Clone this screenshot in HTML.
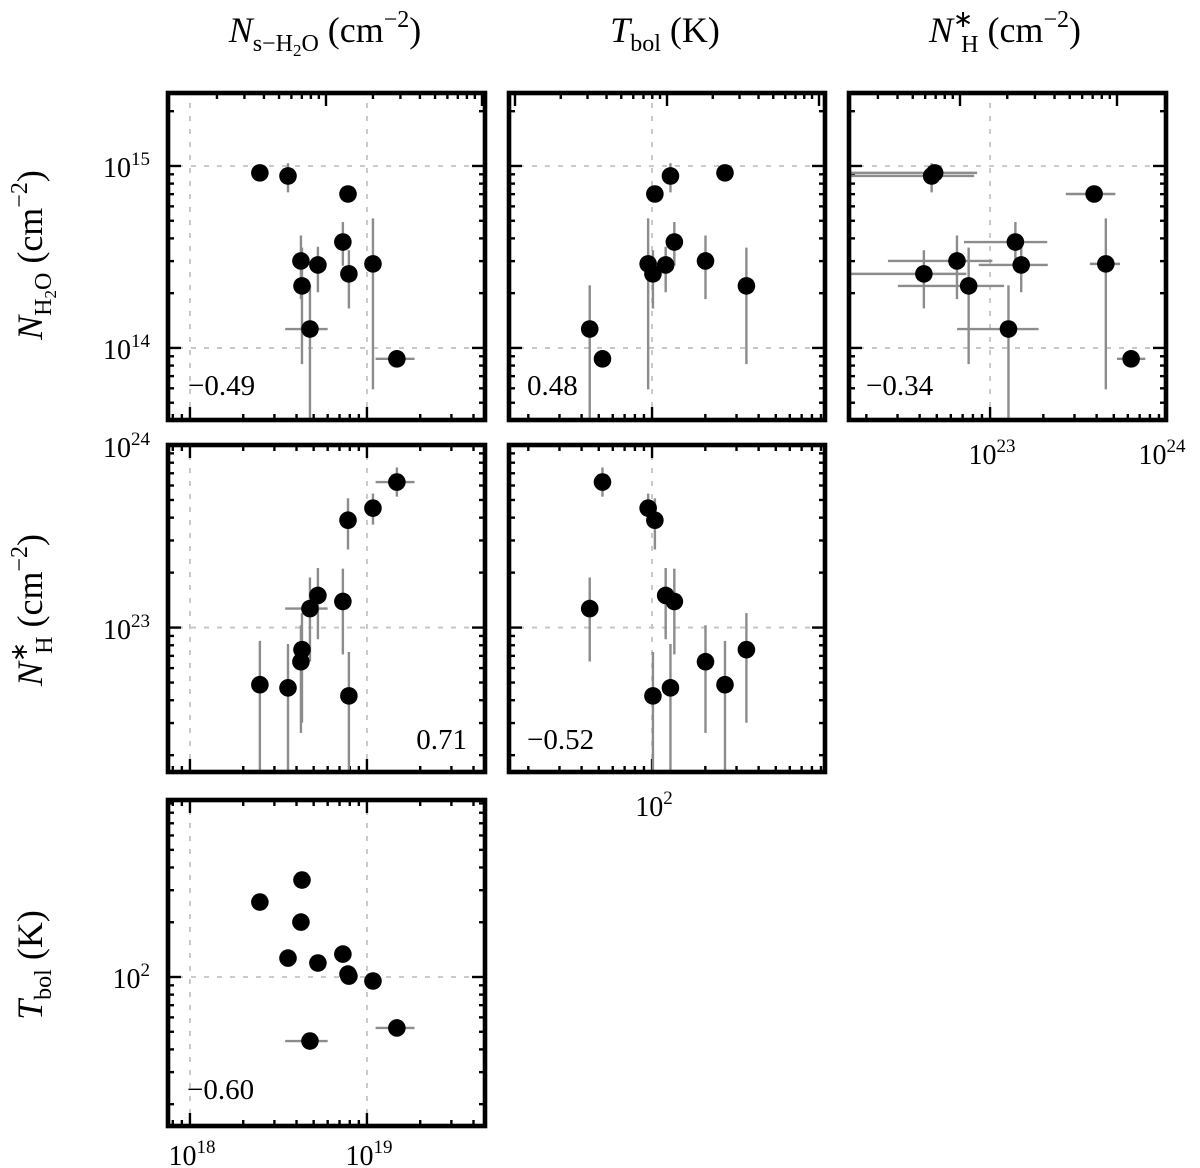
<!DOCTYPE html>
<html><head><meta charset="utf-8"><style>
html,body{margin:0;padding:0;background:#fff;}
svg{display:block;font-family:"Liberation Serif",serif;}
</style></head><body>
<svg id="fig" width="1200" height="1168" viewBox="0 0 1200 1168" xmlns="http://www.w3.org/2000/svg"></svg>
<script>
// ---- data (log10 values), one entry per source ----
const logNsH2O = [18.395,18.554,18.627,18.633,18.678,18.723,18.864,18.893,18.898,19.034,19.169];
const logNH    = [22.687,22.670,22.813,22.879,23.104,23.176,23.143,23.588,22.626,23.654,23.797];
const logTbol  = [2.412,2.104,2.302,2.533,1.648,2.077,2.126,2.016,2.005,1.978,1.720];
const logNH2O  = [14.962,14.945,14.478,14.341,14.104,14.456,14.582,14.846,14.407,14.462,13.940];
// errors in dex (lower, upper)
const errNsLo  = [0,0,0,0,0.14,0,0,0,0,0,0.12];
const errNsHi  = [0,0,0,0,0.10,0,0,0,0,0,0.10];
const errNHLo  = [1.0,1.0,0.39,0.40,0.29,0.24,0.29,0.16,1.0,0.09,0.08];
const errNHHi  = [0.24,0.24,0.20,0.20,0.17,0.15,0.18,0.12,0.24,0.08,0.08];
const errH2OLo = [0,0.09,0.21,0.43,1.0,0.15,0.13,0,0.19,0.69,0];
const errH2OHi = [0,0.07,0.14,0.21,0.24,0.10,0.11,0,0.13,0.25,0];
const errTbolLo = [0,0,0,0,0,0,0,0,0,0,0];
const errTbolHi = [0,0,0,0,0,0,0,0,0,0,0];
const corrLabels = ["\u22120.49","0.48","\u22120.34","0.71","\u22120.52","\u22120.60"];

const NS="http://www.w3.org/2000/svg";
const svg=document.getElementById('fig');
function mk(tag,attrs,parent){const e=document.createElementNS(NS,tag);for(const k in attrs)e.setAttribute(k,attrs[k]);(parent||svg).appendChild(e);return e;}

const vars={
  ns:{v:logNsH2O,lo:errNsLo,hi:errNsHi},
  nh:{v:logNH,lo:errNHLo,hi:errNHHi},
  tbol:{v:logTbol,lo:errTbolLo,hi:errTbolHi},
  h2o:{v:logNH2O,lo:errH2OLo,hi:errH2OHi}
};
const panels=[
 {x:'ns',y:'h2o',L:168,T:93,W:317,H:327,xd:[17.876,19.667],yd:[13.604,15.401],top:{dec:326,px:156},corr:0,cx:188,cy:395,anchor:'start'},
 {x:'tbol',y:'h2o',L:509,T:93,W:316,H:327,xd:[1.192,2.977],yd:[13.604,15.401],top:{dec:667,px:152},corr:1,cx:527,cy:395,anchor:'start'},
 {x:'nh',y:'h2o',L:849,T:93,W:317,H:327,xd:[22.203,23.994],yd:[13.604,15.401],top:{dec:960,px:157},corr:2,cx:866,cy:395,anchor:'start'},
 {x:'ns',y:'nh',L:168,T:445,W:317,H:327,xd:[17.876,19.667],yd:[22.209,24.0],corr:3,cx:467,cy:749,anchor:'end'},
 {x:'tbol',y:'nh',L:509,T:445,W:316,H:327,xd:[1.192,2.977],yd:[22.209,24.0],corr:4,cx:527,cy:749,anchor:'start'},
 {x:'ns',y:'tbol',L:168,T:800,W:317,H:326,xd:[17.876,19.667],yd:[1.181,2.973],corr:5,cx:187,cy:1099,anchor:'start'}
];

panels.forEach((p,pi)=>{
  const g=mk('g',{});
  
  
  const X=lg=>p.L+(lg-p.xd[0])/(p.xd[1]-p.xd[0])*p.W;
  const Y=lg=>p.T+p.H-(lg-p.yd[0])/(p.yd[1]-p.yd[0])*p.H;
  const cl=mk('clipPath',{id:'c'+pi},g);mk('rect',{x:p.L,y:p.T,width:p.W,height:p.H},cl);
  const gg=mk('g',{stroke:'#c4c4c4','stroke-width':1.8,'stroke-dasharray':'5,8'},g);
  
  
  for(let d=Math.ceil(p.xd[0]);d<=p.xd[1];d++){const x=X(d);if(x>p.L+3&&x<p.L+p.W-3)mk('line',{x1:x,x2:x,y1:p.T+10,y2:p.T+p.H-10},gg);}
  for(let d=Math.ceil(p.yd[0]);d<=p.yd[1];d++){const y=Y(d);if(y>p.T+3&&y<p.T+p.H-3)mk('line',{y1:y,y2:y,x1:p.L+10,x2:p.L+p.W-10},gg);}
  const tg=mk('g',{stroke:'#000','stroke-width':2.4},g);
  
  
  function logTicks(lo,hi,cb){for(let d=Math.floor(lo);d<=Math.ceil(hi);d++)for(let m=1;m<10;m++){const v=d+Math.log10(m);if(v>lo&&v<hi)cb(v,m===1);}}
  logTicks(p.xd[0],p.xd[1],(v,maj)=>{const x=X(v),l=maj?13:6;mk('line',{x1:x,x2:x,y1:p.T+p.H,y2:p.T+p.H-l},tg);if(!p.top)mk('line',{x1:x,x2:x,y1:p.T,y2:p.T+l},tg);});
  if(p.top){for(let k=-3;k<=3;k++)for(let m=1;m<10;m++){const x=p.top.dec+(k+Math.log10(m))*p.top.px;if(x>p.L+2&&x<p.L+p.W-2){const l=m===1?13:6;mk('line',{x1:x,x2:x,y1:p.T,y2:p.T+l},tg);}}}
  logTicks(p.yd[0],p.yd[1],(v,maj)=>{const y=Y(v),l=maj?13:6;mk('line',{y1:y,y2:y,x1:p.L,x2:p.L+l},tg);mk('line',{y1:y,y2:y,x1:p.L+p.W,x2:p.L+p.W-l},tg);});
  const xv=vars[p.x],yv=vars[p.y];
  const eg=mk('g',{stroke:'#8c8c8c','stroke-width':2.4,'clip-path':'url(#c'+pi+')'},g);
  
  
  const pg=mk('g',{fill:'#000'},g);
  
  
  xv.v.forEach((xx,i)=>{
    const yy=yv.v[i];
    if(xv.lo[i]||xv.hi[i])mk('line',{x1:X(xx-xv.lo[i]),x2:X(xx+xv.hi[i]),y1:Y(yy),y2:Y(yy)},eg);
    if(yv.lo[i]||yv.hi[i])mk('line',{x1:X(xx),x2:X(xx),y1:Y(yy-yv.lo[i]),y2:Y(yy+yv.hi[i])},eg);
  });
  xv.v.forEach((xx,i)=>{
    const c=mk('circle',{cx:X(xx),cy:Y(yv.v[i]),r:8.8},pg);
    
    
  });
  const fr=mk('rect',{x:p.L,y:p.T,width:p.W,height:p.H,fill:'none',stroke:'#000','stroke-width':4.6},g);
  
  
  const t=mk('text',{x:p.cx,y:p.cy,'font-size':29,'text-anchor':p.anchor},g);
  t.textContent=corrLabels[p.corr];
  
  
});
</script>
<svg width="1200" height="1168" style="position:absolute;left:0;top:0" font-family="Liberation Serif, serif">
  <g font-size="28">
    <text x="150" y="177" text-anchor="end">10<tspan dy="-12" font-size="19">15</tspan></text>
    <text x="150" y="359" text-anchor="end">10<tspan dy="-12" font-size="19">14</tspan></text>
    <text x="150" y="457" text-anchor="end">10<tspan dy="-12" font-size="19">24</tspan></text>
    <text x="150" y="639" text-anchor="end">10<tspan dy="-12" font-size="19">23</tspan></text>
    <text x="150" y="988" text-anchor="end">10<tspan dy="-12" font-size="19">2</tspan></text>
    <text x="192" y="1165" text-anchor="middle">10<tspan dy="-12" font-size="19">18</tspan></text>
    <text x="369" y="1165" text-anchor="middle">10<tspan dy="-12" font-size="19">19</tspan></text>
    <text x="654" y="816" text-anchor="middle">10<tspan dy="-12" font-size="19">2</tspan></text>
    <text x="992" y="464" text-anchor="middle">10<tspan dy="-12" font-size="19">23</tspan></text>
    <text x="1162" y="464" text-anchor="middle">10<tspan dy="-12" font-size="19">24</tspan></text>
  </g>
  <g font-size="36">
    <text x="325" y="42" text-anchor="middle"><tspan font-style="italic">N</tspan><tspan font-size="24" dy="9">s−H</tspan><tspan font-size="17" dy="5">2</tspan><tspan font-size="24" dy="-5">O</tspan><tspan dy="-9"> (cm</tspan><tspan font-size="24" dy="-15">−2</tspan><tspan dy="15">)</tspan></text>
    <text x="665" y="42" text-anchor="middle"><tspan font-style="italic">T</tspan><tspan font-size="24" dy="9">bol</tspan><tspan dy="-9"> (K)</tspan></text>
    <text x="1005" y="42" text-anchor="middle"><tspan font-style="italic">N</tspan><tspan font-size="24" dy="-15">∗</tspan><tspan font-size="24" dx="-12" dy="25">H</tspan><tspan dy="-10"> (cm</tspan><tspan font-size="24" dy="-15">−2</tspan><tspan dy="15">)</tspan></text>
    <text transform="translate(42,255) rotate(-90)" text-anchor="middle"><tspan font-style="italic">N</tspan><tspan font-size="24" dy="9">H</tspan><tspan font-size="17" dy="5">2</tspan><tspan font-size="24" dy="-5">O</tspan><tspan dy="-9"> (cm</tspan><tspan font-size="24" dy="-15">−2</tspan><tspan dy="15">)</tspan></text>
    <text transform="translate(42,610) rotate(-90)" text-anchor="middle"><tspan font-style="italic">N</tspan><tspan font-size="24" dy="-15">∗</tspan><tspan font-size="24" dx="-12" dy="25">H</tspan><tspan dy="-10"> (cm</tspan><tspan font-size="24" dy="-15">−2</tspan><tspan dy="15">)</tspan></text>
    <text transform="translate(42,965) rotate(-90)" text-anchor="middle"><tspan font-style="italic">T</tspan><tspan font-size="24" dy="9">bol</tspan><tspan dy="-9"> (K)</tspan></text>
  </g>
</svg>
</body></html>
